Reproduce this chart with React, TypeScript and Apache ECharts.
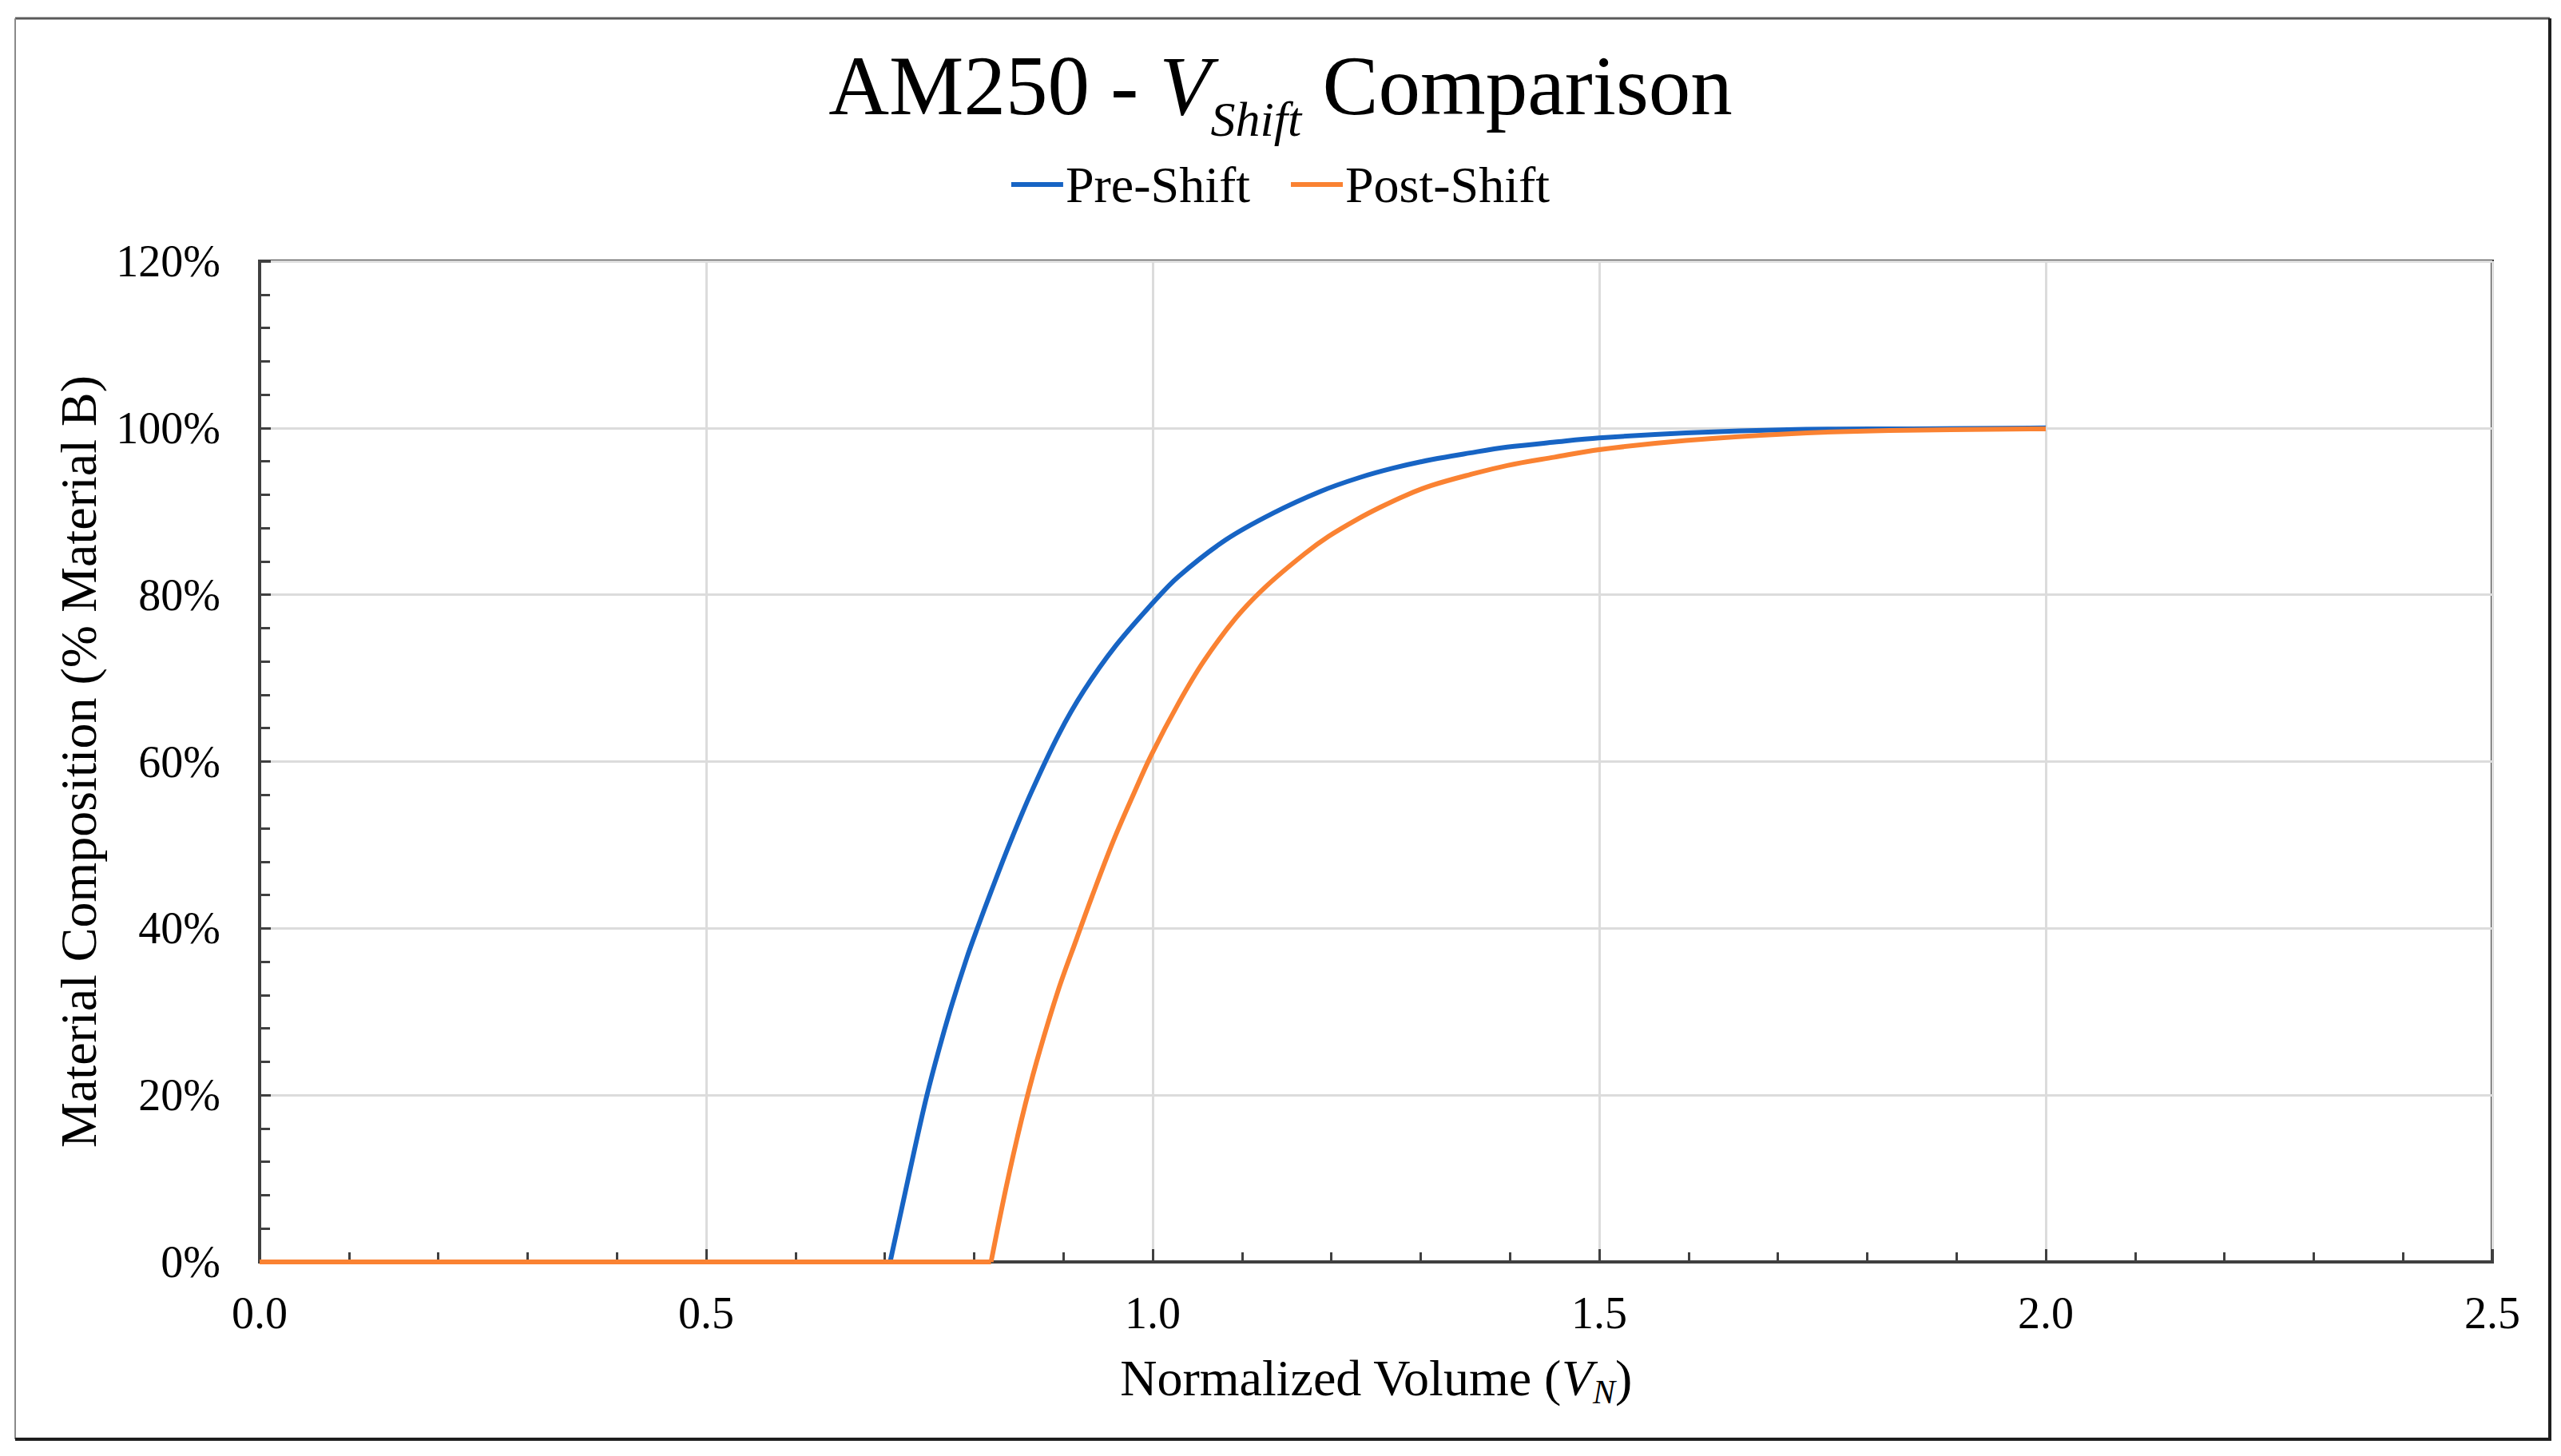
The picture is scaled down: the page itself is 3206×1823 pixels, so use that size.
import React, { useEffect, useRef } from "react";
import * as echarts from "echarts";

// Pre-Shift curve (x: normalized volume, y: % material B)
const preX = [0, 0.706, 0.72, 0.734, 0.747, 0.761, 0.775, 0.792, 0.804, 0.819, 0.84, 0.864, 0.895, 0.923, 0.958, 1.0, 1.029, 1.082, 1.135, 1.188, 1.23, 1.27, 1.312, 1.355, 1.397, 1.45, 1.5, 1.597, 1.711, 1.85, 2.0];
const preY = [0, 0, 6.9, 13.8, 19.9, 25.6, 30.8, 36.5, 40.1, 44.4, 50.2, 56.3, 63.3, 68.5, 73.8, 79.0, 82.2, 86.6, 89.8, 92.4, 94.0, 95.2, 96.2, 97.0, 97.7, 98.3, 98.8, 99.4, 99.8, 99.9, 100];

// Post-Shift curve
const postX = [0, 0.819, 0.836, 0.853, 0.87, 0.894, 0.915, 0.932, 0.956, 0.979, 0.999, 1.029, 1.057, 1.093, 1.128, 1.17, 1.197, 1.23, 1.255, 1.283, 1.312, 1.355, 1.397, 1.45, 1.5, 1.597, 1.711, 1.825, 2.0];
const postY = [0, 0, 9.0, 17.0, 24.0, 32.5, 38.8, 43.8, 50.5, 56.2, 60.9, 67.0, 72.0, 77.2, 81.1, 84.9, 87.0, 89.1, 90.5, 91.9, 93.1, 94.4, 95.5, 96.5, 97.4, 98.5, 99.3, 99.7, 99.9];

const seriesNames = ["Pre-Shift", "Post-Shift"];
const seriesColors = ["#1764C4", "#FA8232"];

const xMin = 0;
const xMax = 2.5;
const xInterval = 0.5;
const yMin = 0;
const yMax = 120;
const yInterval = 20;

const FONT = "'Liberation Serif', 'Times New Roman', serif";

// split a curve into its flat zero part and its rising part (index 1 = start of rise)
function splitCurve(xs: number[], ys: number[]) {
  const pts = xs.map((x, i) => [x, ys[i]]);
  return { flat: pts.slice(0, 2), rise: pts.slice(1) };
}

export default function App() {
  const ref = useRef<HTMLDivElement>(null);

  useEffect(() => {
    if (!ref.current) return;
    const chart = echarts.init(ref.current, undefined, { renderer: "svg" });
    const pre = splitCurve(preX, preY);
    const post = splitCurve(postX, postY);

    const tickColor = "#404040";
    const lineW = 6;

    const mk = (name: string, color: string, data: number[][], smooth: number | boolean) => ({
      name,
      type: "line",
      data,
      showSymbol: false,
      symbol: "none",
      smooth,
      lineStyle: { color, width: lineW },
      itemStyle: { color },
    });

    chart.setOption({
      animation: false,
      backgroundColor: "#ffffff",
      title: {
        left: "center",
        top: 42,
        text: "{a|AM250 - }{v|V}{s|Shift}{a| Comparison}",
        textStyle: {
          fontWeight: "normal",
          rich: {
            a: { fontFamily: FONT, fontSize: 105, fontWeight: "normal", color: "#000", lineHeight: 120 },
            v: { fontFamily: FONT, fontSize: 105, fontWeight: "normal", color: "#000", lineHeight: 120, fontStyle: "italic" },
            s: { fontFamily: FONT, fontSize: 62, fontWeight: "normal", color: "#000", lineHeight: 120, fontStyle: "italic", padding: [84, 0, 0, 0] },
          },
        },
      },
      legend: {
        left: "center",
        top: 194,
        data: seriesNames,
        icon: "rect",
        itemWidth: 65,
        itemHeight: 6,
        itemGap: 51,
        textStyle: { fontFamily: FONT, fontSize: 64, color: "#000", padding: [0, 0, 0, -2] },
      },
      grid: {
        left: 325,
        top: 327,
        right: 86,
        bottom: 243,
        show: true,
        borderColor: tickColor,
        borderWidth: 4,
        containLabel: false,
      },
      xAxis: {
        type: "value",
        min: xMin,
        max: xMax,
        interval: xInterval,
        name: "{a|Normalized Volume (}{v|V}{s|N}{a|)}",
        nameLocation: "middle",
        nameGap: 108,
        nameTextStyle: {
          rich: {
            a: { fontFamily: FONT, fontSize: 64, color: "#000", lineHeight: 75 },
            v: { fontFamily: FONT, fontSize: 64, color: "#000", lineHeight: 75, fontStyle: "italic" },
            s: { fontFamily: FONT, fontSize: 42, color: "#000", lineHeight: 75, fontStyle: "italic", padding: [34, 0, 0, 0] },
          },
        },
        axisLine: { show: true, lineStyle: { color: tickColor, width: 4 } },
        axisTick: { show: true, inside: true, length: 16, lineStyle: { color: tickColor, width: 3 } },
        minorTick: { show: true, splitNumber: 5, length: 12, lineStyle: { color: tickColor, width: 3 } },
        splitLine: { show: true, lineStyle: { color: "#dcdcdc", width: 3 } },
        axisLabel: {
          margin: 36,
          fontFamily: FONT,
          fontSize: 56,
          color: "#000",
          formatter: (v: number) => v.toFixed(1),
        },
      },
      yAxis: {
        type: "value",
        min: yMin,
        max: yMax,
        interval: yInterval,
        name: "Material Composition (% Material B)",
        nameLocation: "middle",
        nameGap: 195,
        nameTextStyle: { fontFamily: FONT, fontSize: 64, color: "#000" },
        axisLine: { show: true, lineStyle: { color: tickColor, width: 4 } },
        axisTick: { show: true, inside: true, length: 14, lineStyle: { color: tickColor, width: 3 } },
        minorTick: { show: true, splitNumber: 5, length: 13, lineStyle: { color: tickColor, width: 3 } },
        splitLine: { show: true, lineStyle: { color: "#dcdcdc", width: 3 } },
        axisLabel: {
          margin: 49,
          fontFamily: FONT,
          fontSize: 56,
          color: "#000",
          formatter: (v: number) => `${v}%`,
        },
      },
      series: [
        mk(seriesNames[0], seriesColors[0], pre.flat, false),
        mk(seriesNames[0], seriesColors[0], pre.rise, 0.35),
        mk(seriesNames[1], seriesColors[1], post.flat, false),
        mk(seriesNames[1], seriesColors[1], post.rise, 0.35),
      ],
      graphic: [
        { type: "line", shape: { x1: 19, y1: 23, x2: 3192, y2: 23 }, style: { stroke: "#5a5a5a", lineWidth: 3 }, silent: true },
        { type: "line", shape: { x1: 19, y1: 23, x2: 19, y2: 1802 }, style: { stroke: "#8a8a8a", lineWidth: 2 }, silent: true },
        { type: "line", shape: { x1: 3192, y1: 23, x2: 3192, y2: 1803 }, style: { stroke: "#1e1e1e", lineWidth: 4 }, silent: true },
        { type: "line", shape: { x1: 19, y1: 1802, x2: 3194, y2: 1802 }, style: { stroke: "#1e1e1e", lineWidth: 4 }, silent: true },
      ],
    });

    return () => {
      chart.dispose();
    };
  }, []);

  return (
    <div
      ref={ref}
      style={{ position: "absolute", left: 0, top: 0, width: "3206px", height: "1823px", background: "#fff" }}
    />
  );
}
